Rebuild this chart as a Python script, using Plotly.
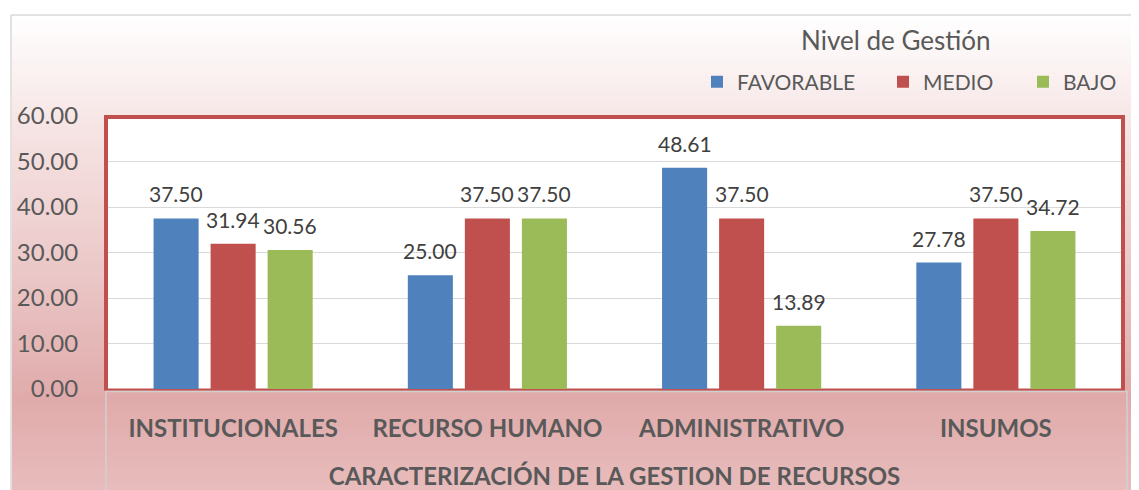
import plotly.graph_objects as go

categories = ["INSTITUCIONALES", "RECURSO HUMANO", "ADMINISTRATIVO", "INSUMOS"]
series_names = ["FAVORABLE", "MEDIO", "BAJO"]
favorable = [37.50, 25.00, 48.61, 27.78]
medio = [31.94, 37.50, 37.50, 37.50]
bajo = [30.56, 37.50, 13.89, 34.72]
y_ticks = [0, 10, 20, 30, 40, 50, 60]
legend_title = "Nivel de Gestión"
x_title = "CARACTERIZACIÓN DE LA GESTION DE RECURSOS"

colors = ["#4F81BD", "#C0504D", "#9BBB59"]
FONT = "Lato"
TXT = "#595959"

# page body has an 8px margin: figure drawn at (8, 8)
OFF = 8
W, H = 1139 - OFF, 490 - OFF
L, R, T, B = 106 - OFF, 16, 116 - OFF, 101
PW, PH = W - L - R, H - T - B


def px_x(px):  # reference screen x -> paper
    return (px - OFF - L) / PW


def px_y(py):  # reference screen y -> paper
    return (H - B - (py - OFF)) / PH


fig = go.Figure()
values = [favorable, medio, bajo]
legends = ["legend", "legend2", "legend3"]
for i, (name, vals) in enumerate(zip(series_names, values)):
    fig.add_trace(go.Bar(
        x=categories, y=vals, name=name,
        marker=dict(color=colors[i], line=dict(width=0)),
        legend=legends[i],
    ))

# data labels
slot = PW / 4 * (1 - 0.327) / 3
for i, vals in enumerate(values):
    for c, v in zip(categories, vals):
        fig.add_annotation(
            x=c, y=v, text=f"{v:.2f}", showarrow=False,
            xshift=(i - 1) * slot, yshift=10, yanchor="bottom",
            font=dict(family=FONT, size=21, color="#404040"),
        )

shapes = []


def grad(py):
    stops = [(15, (255, 255, 255)), (120, (247, 230, 230)), (260, (236, 202, 202)),
             (400, (224, 170, 170)), (490, (232, 188, 188))]
    for (a, ca), (b, cb) in zip(stops[:-1], stops[1:]):
        if a <= py <= b:
            t = (py - a) / (b - a)
            return "rgb(%d,%d,%d)" % tuple(round(ca[k] + (cb[k] - ca[k]) * t) for k in range(3))
    return "rgb(232,188,188)"


step = 5
py = 16
while py < 495:
    shapes.append(dict(type="rect", xref="paper", yref="paper", layer="below",
                       x0=px_x(12), x1=px_x(1145), y0=px_y(py + step + 0.5), y1=px_y(py),
                       fillcolor=grad(py + step / 2), line=dict(width=0)))
    py += step
# outer chart border
shapes.append(dict(type="line", xref="paper", yref="paper", layer="below",
                   x0=px_x(11), x1=px_x(11), y0=px_y(15), y1=px_y(500),
                   line=dict(color="#D9D9D9", width=1.5)))
shapes.append(dict(type="line", xref="paper", yref="paper", layer="below",
                   x0=px_x(11), x1=px_x(1150), y0=px_y(15), y1=px_y(15),
                   line=dict(color="#D9D9D9", width=1.5)))
# white plot area
shapes.append(dict(type="rect", xref="paper", yref="paper", layer="below",
                   x0=0, x1=1, y0=0, y1=1, fillcolor="white", line=dict(width=0)))
# category axis box
shapes.append(dict(type="line", xref="paper", yref="paper", layer="below",
                   x0=0, x1=0, y0=px_y(391), y1=px_y(500), line=dict(color="#D0D0D0", width=1.5)))
shapes.append(dict(type="line", xref="paper", yref="paper", layer="below",
                   x0=px_x(1127), x1=px_x(1127), y0=px_y(391), y1=px_y(500), line=dict(color="#D0D0D0", width=1.5)))
shapes.append(dict(type="line", xref="paper", yref="paper", layer="below",
                   x0=0, x1=px_x(1127), y0=px_y(391.5), y1=px_y(391.5), line=dict(color="#D0D0D0", width=1.5)))
# red frame
red = "#C0504D"
shapes += [
    dict(type="line", xref="paper", yref="paper", x0=px_x(104), x1=px_x(1125), y0=px_y(117), y1=px_y(117), line=dict(color=red, width=4)),
    dict(type="line", xref="paper", yref="paper", x0=px_x(106), x1=px_x(106), y0=px_y(115), y1=px_y(390), line=dict(color=red, width=4)),
    dict(type="line", xref="paper", yref="paper", x0=px_x(1123), x1=px_x(1123), y0=px_y(115), y1=px_y(390), line=dict(color=red, width=4)),
    dict(type="line", xref="paper", yref="paper", layer="below", x0=px_x(104), x1=px_x(1125), y0=px_y(389.5), y1=px_y(389.5), line=dict(color=red, width=2)),
]

leg_common = dict(orientation="h", xanchor="left", yanchor="middle",
                  bgcolor="rgba(0,0,0,0)", font=dict(family=FONT, size=21, color=TXT),
                  itemwidth=30)
fig.update_layout(
    width=W, height=H,
    margin=dict(l=L, r=R, t=T, b=B, pad=0, autoexpand=False),
    paper_bgcolor="white", plot_bgcolor="white",
    barmode="group", bargap=0.327, bargroupgap=0.21,
    font=dict(family=FONT, color=TXT),
    shapes=shapes,
    legend=dict(x=px_x(697), y=px_y(82), **leg_common),
    legend2=dict(x=px_x(883), y=px_y(82), **leg_common),
    legend3=dict(x=px_x(1023), y=px_y(82), **leg_common),
    showlegend=True,
    xaxis=dict(
        automargin=False,
        showgrid=False, zeroline=False, showline=False,
        ticks="outside", ticklen=18, tickcolor="rgba(0,0,0,0)",
        tickfont=dict(family=FONT, size=24, color=TXT, weight="bold"),
        title=dict(text=x_title, standoff=33,
                   font=dict(family=FONT, size=24, color=TXT, weight="bold")),
    ),
    yaxis=dict(
        automargin=False,
        range=[0, 60], tickvals=y_ticks, tickformat=".2f",
        showgrid=True, gridcolor="#D9D9D9", gridwidth=1.2, zeroline=False,
        showline=False, ticks="outside", ticklen=22, tickcolor="rgba(0,0,0,0)",
        tickfont=dict(family=FONT, size=24, color=TXT),
    ),
)
fig.add_annotation(text=legend_title, xref="paper", yref="paper",
                   x=px_x(896), y=px_y(40), xanchor="center", yanchor="middle",
                   showarrow=False,
                   font=dict(family=FONT, size=26, color=TXT))

fig.write_html("out.html")
